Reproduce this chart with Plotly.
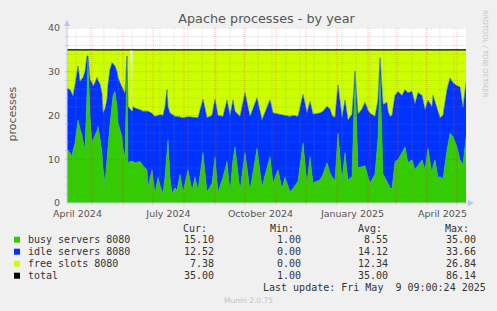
import plotly.graph_objects as go
import pandas as pd

# ---------------- data ----------------
dates = [
    "2024-04-05", "2024-04-09", "2024-04-11", "2024-04-12", "2024-04-14", "2024-04-16", "2024-04-17",
    "2024-04-19", "2024-04-21", "2024-04-22", "2024-04-24", "2024-04-26", "2024-04-27", "2024-04-29",
    "2024-05-01", "2024-05-02", "2024-05-04", "2024-05-06", "2024-05-07", "2024-05-09", "2024-05-11",
    "2024-05-12", "2024-05-14", "2024-05-16", "2024-05-17", "2024-05-19", "2024-05-21", "2024-05-22",
    "2024-05-24", "2024-05-26", "2024-05-27", "2024-05-29", "2024-05-31", "2024-06-01", "2024-06-03",
    "2024-06-05", "2024-06-06", "2024-06-08", "2024-06-10", "2024-06-11", "2024-06-13", "2024-06-18",
    "2024-06-21", "2024-06-25", "2024-06-26", "2024-06-30", "2024-07-03", "2024-07-06", "2024-07-08",
    "2024-07-11", "2024-07-13", "2024-07-15", "2024-07-16", "2024-07-18", "2024-07-20", "2024-07-23",
    "2024-07-25", "2024-07-28", "2024-07-31", "2024-08-05", "2024-08-09", "2024-08-12", "2024-08-15",
    "2024-08-20", "2024-08-24", "2024-08-29", "2024-09-01", "2024-09-04", "2024-09-09", "2024-09-13",
    "2024-09-16", "2024-09-19", "2024-09-21", "2024-09-26", "2024-10-01", "2024-10-06", "2024-10-13",
    "2024-10-18", "2024-10-26", "2024-10-29", "2024-11-03", "2024-11-07", "2024-11-10", "2024-11-15",
    "2024-11-18", "2024-11-23", "2024-11-28", "2024-12-02", "2024-12-05", "2024-12-08", "2024-12-15",
    "2024-12-18", "2024-12-22", "2024-12-25", "2024-12-27", "2024-12-30", "2025-01-02", "2025-01-06",
    "2025-01-09", "2025-01-12", "2025-01-16", "2025-01-19", "2025-01-22", "2025-01-26", "2025-01-29",
    "2025-02-01", "2025-02-03", "2025-02-08", "2025-02-11", "2025-02-13", "2025-02-16", "2025-02-20",
    "2025-02-21", "2025-02-23", "2025-02-25", "2025-02-28", "2025-03-03", "2025-03-07", "2025-03-10",
    "2025-03-13", "2025-03-17", "2025-03-20", "2025-03-23", "2025-03-27", "2025-03-30", "2025-04-02",
    "2025-04-06", "2025-04-07", "2025-04-09", "2025-04-12", "2025-04-14", "2025-04-17", "2025-04-21",
    "2025-04-24", "2025-04-27", "2025-05-01", "2025-05-04", "2025-05-07", "2025-05-10",
]

busy = [
    12.5, 11.5, 10.6, 12.0, 13.7, 17.0, 19.0,
    17.0, 15.6, 14.0, 12.5, 25.0, 33.2, 20.0,
    13.7, 14.5, 15.5, 16.5, 17.5, 15.0, 11.5,
    8.0, 4.6, 9.0, 12.8, 18.0, 22.9, 24.5,
    25.5, 22.0, 18.3, 16.5, 15.2, 12.5, 10.6,
    32.5, 9.2, 9.5, 9.5, 9.5, 9.2, 9.5,
    8.5, 7.6, 3.7, 7.6, 2.2, 5.9, 4.0,
    2.2, 6.0, 12.0, 14.4, 6.0, 2.2, 3.5,
    2.9, 6.6, 2.5, 7.6, 2.9, 5.9, 2.9,
    11.5, 2.5, 4.5, 10.6, 2.5, 5.9, 9.5,
    2.5, 10.0, 12.8, 2.9, 11.5, 2.9, 12.5,
    3.7, 10.6, 4.6, 7.6, 3.3, 5.9, 2.6,
    3.3, 5.0, 13.7, 4.6, 10.6, 4.6, 5.3,
    6.6, 9.2, 7.0, 5.9, 5.3, 16.0, 5.3,
    11.5, 5.3, 6.0, 29.7, 8.1, 8.3, 8.5,
    6.0, 4.6, 6.6, 15.0, 29.7, 6.6, 5.0,
    4.6, 3.5, 3.3, 9.5, 9.9, 11.5, 12.8,
    9.2, 9.9, 7.6, 8.5, 9.9, 7.6, 12.5,
    6.6, 8.5, 9.9, 5.9, 5.9, 5.6, 12.2,
    15.9, 15.2, 12.8, 9.9, 8.8, 15.1,
]

idle = [
    13.9, 14.4, 14.4, 12.4, 13.3, 13.0, 12.3,
    10.8, 12.9, 14.7, 17.5, 8.6, 0.4, 8.2,
    13.8, 12.2, 12.0, 12.2, 10.5, 12.2, 13.5,
    12.6, 16.9, 14.6, 14.2, 12.5, 9.2, 7.3,
    5.8, 8.0, 10.4, 11.0, 11.3, 13.4, 14.4,
    1.1, 12.9, 12.0, 11.5, 12.5, 12.5, 11.8,
    12.5, 13.4, 17.3, 12.9, 17.6, 14.1, 16.2,
    17.8, 16.0, 13.9, 7.6, 14.6, 18.0, 16.3,
    16.9, 13.0, 17.0, 12.1, 16.7, 13.6, 16.6,
    12.2, 17.0, 15.5, 13.1, 17.5, 13.9, 14.0,
    17.5, 13.5, 8.2, 16.9, 13.7, 16.9, 11.5,
    15.3, 13.0, 16.0, 12.7, 16.9, 14.1, 17.2,
    16.7, 14.8, 11.1, 16.0, 12.6, 15.7, 15.3,
    14.4, 12.9, 14.5, 14.1, 14.2, 11.0, 14.2,
    12.0, 13.7, 14.3, 0.4, 12.2, 13.2, 14.5,
    15.2, 15.9, 13.2, 8.5, 3.5, 15.9, 18.0,
    16.4, 16.3, 16.7, 15.1, 15.6, 13.1, 13.1,
    16.0, 15.6, 15.1, 16.7, 14.7, 13.7, 11.0,
    15.4, 16.1, 13.1, 14.6, 13.6, 14.4, 13.7,
    12.7, 12.3, 14.0, 16.6, 12.9, 12.52,
]

free = [
    8.6, 9.1, 10.0, 10.6, 8.0, 5.0, 3.7,
    7.2, 6.5, 6.3, 5.0, 1.4, 1.4, 6.8,
    7.5, 8.3, 7.5, 6.3, 7.0, 7.8, 10.0,
    14.4, 13.5, 11.4, 8.0, 4.5, 2.9, 3.2,
    3.7, 5.0, 6.3, 7.5, 8.5, 9.1, 10.0,
    1.4, 12.9, 13.5, 0.0, 13.0, 13.3, 13.7,
    14.0, 14.0, 14.0, 14.5, 15.2, 15.0, 14.8,
    15.0, 13.0, 9.1, 13.0, 14.4, 14.8, 15.2,
    15.2, 15.4, 15.5, 15.3, 15.4, 15.5, 15.5,
    11.3, 15.5, 15.0, 11.3, 15.0, 15.2, 11.5,
    15.0, 11.5, 14.0, 15.2, 9.8, 15.2, 11.0,
    16.0, 11.4, 14.4, 14.7, 14.8, 15.0, 15.2,
    15.0, 15.2, 10.2, 14.4, 11.8, 14.7, 14.4,
    14.0, 12.9, 13.5, 15.0, 15.5, 8.0, 15.5,
    11.5, 16.0, 14.7, 4.9, 14.7, 13.5, 12.0,
    13.8, 14.5, 15.2, 11.5, 1.8, 12.5, 12.0,
    14.0, 15.2, 15.0, 10.4, 9.5, 10.4, 9.1,
    9.8, 9.5, 12.3, 9.8, 10.4, 13.7, 11.5,
    13.0, 10.4, 12.0, 14.5, 15.5, 15.0, 9.1,
    6.4, 7.5, 8.2, 8.5, 13.3, 7.38,
]

total_dates = ["2024-04-05", "2025-05-10"]
total = [35.0, 35.0]

series_names = ["busy servers 8080", "idle servers 8080", "free slots 8080", "total"]
series_colors = ["#33CC00", "#0033FF", "#CCFF00", "#000000"]
cur_vals = ["15.10", "12.52", "7.38", "35.00"]
min_vals = ["1.00", "0.00", "0.00", "1.00"]
avg_vals = ["8.55", "14.12", "12.34", "35.00"]
max_vals = ["35.00", "33.66", "26.84", "86.14"]
col_heads = ["Cur:", "Min:", "Avg:", "Max:"]

x_tick_vals = ["2024-04-16 12:00", "2024-07-16 12:00", "2024-10-16 12:00",
               "2025-01-16 12:00", "2025-04-16 12:00"]
x_tick_text = ["April 2024", "July 2024", "October 2024", "January 2025", "April 2025"]
y_tick_vals = [0, 10, 20, 30, 40]
y_tick_text = ["0", "10", "20", "30", "40"]

title_text = "Apache processes - by year"
y_title = "processes"
last_update = "Last update: Fri May\u00a0 9 09:00:24 2025"
footer = "Munin 2.0.75"
side_text = "RRDTOOL / TOBI OETIKER"

# ---------------- geometry ----------------
W, H = 497, 311
ML, MR, MT, MB = 67, 31, 28, 108
PW, PH = W - ML - MR, H - MT - MB
X_RANGE = ["2024-04-06", "2025-05-10"]
Y_RANGE = [0, 40]


def fx(px):
    return (px - ML) / PW


def fy(py):
    return (H - MB - py) / PH


fig = go.Figure()
for name, vals, col in zip(series_names[:3], [busy, idle, free], series_colors[:3]):
    fig.add_trace(go.Scatter(
        x=dates, y=vals, name=name, mode="lines", stackgroup="one",
        line=dict(width=0.5, color=col), fillcolor=col, hoverinfo="skip",
    ))
fig.add_trace(go.Scatter(
    x=total_dates, y=total, name=series_names[3], mode="lines",
    line=dict(width=1.3, color=series_colors[3]), hoverinfo="skip",
))

shapes = []
GRAY = "rgba(140,140,140,0.30)"
RED = "rgba(255,0,0,0.25)"
# horizontal grid
for v in range(2, 41, 2):
    col = RED if v % 10 == 0 else GRAY
    shapes.append(dict(type="line", xref="paper", yref="y", x0=0, x1=1, y0=v, y1=v,
                       line=dict(color=col, width=1, dash="1px,1px"), layer="above"))
    shapes.append(dict(type="line", xref="paper", yref="y", x0=fx(ML - 2), x1=fx(ML + 2),
                       y0=v, y1=v, line=dict(color=col, width=1), layer="above"))
# vertical grid
minor_days = pd.date_range("2024-04-15", X_RANGE[1], freq="14D")
month_days = pd.date_range("2024-05-01", X_RANGE[1], freq="MS")
for d in minor_days:
    shapes.append(dict(type="line", xref="x", yref="paper", x0=d, x1=d, y0=0, y1=1,
                       line=dict(color=GRAY, width=1, dash="1px,1px"), layer="above"))
for d in month_days:
    shapes.append(dict(type="line", xref="x", yref="paper", x0=d, x1=d, y0=0, y1=1,
                       line=dict(color=RED, width=1, dash="1px,1px"), layer="above"))
    shapes.append(dict(type="line", xref="x", yref="paper", x0=d, x1=d, y0=fy(H - MB + 2),
                       y1=fy(H - MB - 2), line=dict(color=RED, width=1), layer="above"))
# axis lines with arrows
AX = "#c6ccf2"
shapes.append(dict(type="line", xref="paper", yref="paper", x0=0, x1=fx(471), y0=0, y1=0,
                   line=dict(color=AX, width=1), layer="above"))
shapes.append(dict(type="line", xref="paper", yref="paper", x0=0, x1=0, y0=0, y1=fy(23),
                   line=dict(color=AX, width=1), layer="above"))
shapes.append(dict(type="path", xref="paper", yref="paper", layer="above",
                   path=f"M {fx(474)} {fy(203)} L {fx(468)} {fy(200)} L {fx(468)} {fy(206)} Z",
                   fillcolor="#bcc5f5", line=dict(width=0)))
shapes.append(dict(type="path", xref="paper", yref="paper", layer="above",
                   path=f"M {fx(67)} {fy(20)} L {fx(64)} {fy(26)} L {fx(70)} {fy(26)} Z",
                   fillcolor="#bcc5f5", line=dict(width=0)))

# legend squares
row_y = [239.7, 251.7, 263.7, 275.7]
for col, ry in zip(series_colors, row_y):
    shapes.append(dict(type="rect", xref="paper", yref="paper",
                       x0=fx(14), x1=fx(20), y0=fy(ry + 3), y1=fy(ry - 3),
                       fillcolor=col, line=dict(width=0)))

annotations = []
MONO = dict(family="DejaVu Sans Mono", size=10, color="#333333")


def ann(text, px, py, xanchor="left", font=MONO, **kw):
    annotations.append(dict(text=text, x=fx(px), y=fy(py), xref="paper", yref="paper",
                            xanchor=xanchor, yanchor="middle", showarrow=False,
                            font=font, borderpad=0, **kw))


head_x = [208.3, 295, 382.7, 470]
val_x = [215, 302.3, 389.3, 476.7]
for h, hx in zip(col_heads, head_x):
    ann(h, hx, 228.3, "right")
for i, ry in enumerate(row_y):
    ann(series_names[i], 26.7, ry)
    for vals, vx in zip([cur_vals, min_vals, avg_vals, max_vals], val_x):
        ann(vals[i], vx, ry, "right")
ann(last_update, 261.7, 287.3)
ann(footer, 248, 300, "center", font=dict(family="DejaVu Sans", size=7.5, color="#c4c4c4"))
ann(side_text, 485.5, 53.5, "center", font=dict(family="DejaVu Sans", size=6.8, color="#c4c4c4"),
    textangle=90)
ann(y_title, 12, 114.5, "center", font=dict(family="DejaVu Sans", size=11, color="#555555"),
    textangle=-90)

fig.update_layout(
    width=W, height=H,
    margin=dict(l=ML, r=MR, t=MT, b=MB, autoexpand=False),
    paper_bgcolor="#F0F0F0", plot_bgcolor="#FFFFFF",
    showlegend=False,
    font=dict(family="DejaVu Sans", color="#555555"),
    title=dict(text=title_text, x=0.5, xanchor="center", xref="paper",
               y=1 - 19 / H, yanchor="middle",
               font=dict(family="DejaVu Sans", size=12.8, color="#555555")),
    xaxis=dict(type="date", range=X_RANGE, tickmode="array", tickvals=x_tick_vals,
               ticktext=x_tick_text, showgrid=False, zeroline=False, showline=False,
               ticks="outside", ticklen=2, tickcolor="rgba(0,0,0,0)",
               tickfont=dict(size=9.5, color="#555555"), fixedrange=True),
    yaxis=dict(range=Y_RANGE, tickmode="array", tickvals=y_tick_vals, ticktext=y_tick_text,
               showgrid=False, zeroline=False, showline=False, ticks="outside", ticklen=4,
               tickcolor="rgba(0,0,0,0)", tickfont=dict(size=9.5, color="#555555"),
               fixedrange=True),
    shapes=shapes,
    annotations=annotations,
)

fig.write_html("out.html")
